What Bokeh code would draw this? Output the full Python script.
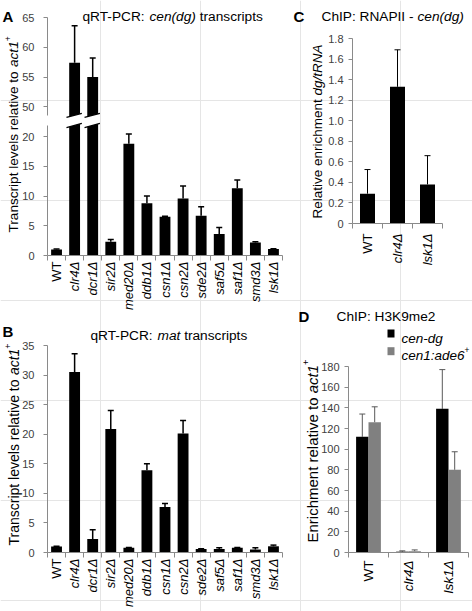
import math
from bokeh.plotting import figure
from bokeh.models import (ColumnDataSource, Range1d, FixedTicker, CustomJSTickFormatter,
                          Label, Whisker, TeeHead, LinearAxis)
from bokeh.embed import file_html
from bokeh.resources import INLINE

# ---------------- data ----------------
strains = ["WT", "clr4Δ", "dcr1Δ", "sir2Δ", "med20Δ", "ddb1Δ", "csn1Δ",
           "csn2Δ", "sde2Δ", "saf5Δ", "saf1Δ", "smd3Δ", "lsk1Δ"]
cen_dg_levels = [1.0, 57.4, 55.0, 2.3, 18.8, 8.8, 6.5, 9.6, 6.7, 3.6, 11.3, 2.2, 1.1]
cen_dg_sd = [0.1, 6.2, 3.2, 0.4, 1.6, 1.2, 0.1, 2.1, 1.5, 1.1, 1.4, 0.1, 0.05]
mat_levels = [1.0, 30.5, 2.3, 20.9, 0.8, 13.9, 7.7, 20.1, 0.6, 0.6, 0.8, 0.5, 1.05]
mat_sd = [0.05, 3.1, 1.55, 3.1, 0.05, 1.1, 0.6, 2.2, 0.05, 0.2, 0.05, 0.3, 0.2]

chip_strains = ["WT", "clr4Δ", "lsk1Δ"]
rnapii_enrich = [0.29, 1.33, 0.38]
rnapii_sd = [0.235, 0.36, 0.28]

h3k9_series = ["cen-dg", "cen1:ade6"]
h3k9_cen_dg = [112, 0.8, 139]
h3k9_cen_dg_sd = [22, 0.8, 38]
h3k9_ade6 = [126, 1.2, 80]
h3k9_ade6_sd = [15, 1.3, 17.5]

a_ticks_low = [0, 5, 10, 15, 20]
a_ticks_high = [50, 55, 60, 65]
b_ticks = [0, 5, 10, 15, 20, 25, 30, 35]
c_ticks = [0, 0.2, 0.4, 0.6, 0.8, 1.0, 1.2, 1.4, 1.6, 1.8]
d_ticks = [0, 20, 40, 60, 80, 100, 120, 140, 160, 180]

# broken axis of panel A: values above the break are drawn shifted down
A_SHIFT = 25
A_LOW_TOP = 21.85
A_HIGH_BOTTOM = 48.5

# ---------------- style ----------------
W, H = 472, 611
FONT = "Liberation Sans"
TICK_FONT = "Liberation Sans"
AXIS_GRAY = "#8a8a8a"
TICK_TXT = "#404040"
BLACK = "#000000"
GRAY_BAR = "#808080"
ERR_D = "#595959"

ARIAL_W = {' ': 278, '(': 333, ')': 333, '+': 584, '-': 333, '.': 278, '/': 278, ':': 278,
           'A': 667, 'B': 667, 'C': 722, 'D': 722, 'E': 667, 'F': 611, 'G': 778, 'H': 722,
           'I': 278, 'J': 500, 'K': 667, 'L': 556, 'M': 833, 'N': 722, 'O': 778, 'P': 667,
           'Q': 778, 'R': 722, 'S': 667, 'T': 611, 'U': 722, 'V': 667, 'W': 944, 'X': 667,
           'Y': 667, 'Z': 611, 'a': 556, 'b': 556, 'c': 500, 'd': 556, 'e': 556, 'f': 278,
           'g': 556, 'h': 556, 'i': 222, 'j': 222, 'k': 500, 'l': 222, 'm': 833, 'n': 556,
           'o': 556, 'p': 556, 'q': 556, 'r': 333, 's': 500, 't': 278, 'u': 556, 'v': 500,
           'w': 722, 'x': 500, 'y': 500, 'z': 500}


def text_width(s, size):
    return sum(ARIAL_W.get(ch, 556) for ch in s) * size / 1000.0


def panel_ranges(box, xdata, ydata):
    """ranges for a panel whose data extents sit at pixel box (left, right, top, bottom)
    of a frame that covers the whole canvas"""
    dl, dr, dt, db = box
    sx = (xdata[1] - xdata[0]) / (dr - dl)
    sy = (ydata[1] - ydata[0]) / (db - dt)
    return (Range1d(xdata[0] - dl * sx, xdata[1] + (W - dr) * sx),
            Range1d(ydata[0] - (H - db) * sy, ydata[1] + dt * sy))


# one canvas; the default ranges are page pixels (y downward) for the texts
p = figure(width=W, height=H, x_range=Range1d(0, W), y_range=Range1d(H, 0),
           x_axis_location=None, y_axis_location=None, title=None,
           toolbar_location=None, output_backend="svg", min_border=0)
p.outline_line_color = None
p.background_fill_color = "white"
p.border_fill_color = "white"

n = len(strains)
idx = list(range(n))
nc = len(chip_strains)
idc = list(range(nc))

boxes = {"A": (47, 282, 17, 255), "C": (352, 442, 38, 223),
         "B": (47, 282, 345, 552), "D": (348, 468, 366, 552)}
extents = {"A": ((-0.5, n - 0.5), (0, a_ticks_high[-1] - A_SHIFT)),
           "C": ((-0.5, nc - 0.5), (0, c_ticks[-1])),
           "B": ((-0.5, n - 0.5), (0, b_ticks[-1])),
           "D": ((-0.5, nc - 0.5), (0, d_ticks[-1]))}
for key, box in boxes.items():
    xr, yr = panel_ranges(box, *extents[key])
    p.extra_x_ranges[key] = xr
    p.extra_y_ranges[key] = yr


def style_axis(ax):
    ax.axis_line_color = AXIS_GRAY
    ax.major_tick_line_color = AXIS_GRAY
    ax.minor_tick_line_color = None
    ax.major_tick_in = 0
    ax.major_label_text_font = TICK_FONT
    ax.major_label_text_color = TICK_TXT
    ax.major_label_text_font_size = "11px"
    return ax


def x_axis(key, ncat):
    ax = style_axis(LinearAxis(x_range_name=key, y_range_name=key, fixed_location=0,
                               bounds=(-0.5, ncat - 0.5),
                               ticker=FixedTicker(ticks=[i - 0.5 for i in range(ncat + 1)]),
                               formatter=CustomJSTickFormatter(code="return '';")))
    ax.major_tick_out = 5
    p.add_layout(ax, "below")


def y_axis(key, ticks, bounds, formatter, standoff):
    ax = style_axis(LinearAxis(x_range_name=key, y_range_name=key, fixed_location=-0.5,
                               bounds=bounds, ticker=FixedTicker(ticks=ticks),
                               formatter=formatter))
    ax.major_tick_out = 4
    ax.major_label_standoff = standoff
    p.add_layout(ax, "left")


def bars(key, xs, tops, errs, width, color, err_color, err_w):
    src = ColumnDataSource(dict(x=xs, top=tops, up=errs))
    p.vbar(x="x", top="top", bottom=0, width=width, source=src, fill_color=color,
           line_color=None, x_range_name=key, y_range_name=key)
    p.add_layout(Whisker(source=src, base="x", lower="top", upper="up", dimension="height",
                         lower_head=None, line_color=err_color, line_width=err_w,
                         x_range_name=key, y_range_name=key,
                         upper_head=TeeHead(size=6, line_color=err_color, line_width=err_w)))


def runs_at(x, y, runs, size, angle=0.0):
    """runs of (text, style, superscript) from page point (x, y) on the baseline"""
    pos = 0.0
    for text, style, sup in runs:
        fs = size * (0.62 if sup else 1.0)
        rise = size * 0.42 if sup else 0.0
        body = text.strip(" ")
        lead = text_width(text[:len(text) - len(text.lstrip(" "))], fs)
        if angle == 0:
            xx, yy = x + pos + lead, y - rise
        else:
            xx, yy = x - rise, y - pos - lead
        p.add_layout(Label(x=xx, y=yy, text=body, angle=angle, text_font=FONT,
                           text_font_size=f"{fs:.2f}px", text_font_style=style,
                           text_color=BLACK, text_align="left", text_baseline="alphabetic"))
        pos += text_width(text, fs)


def letter(x, y, t):
    p.add_layout(Label(x=x, y=y, text=t, text_font=FONT, text_font_size="15px",
                       text_font_style="bold", text_color=BLACK, text_align="left",
                       text_baseline="alphabetic"))


def cat_labels(key, cats, top_y, size):
    for i, c in enumerate(cats):
        p.add_layout(Label(x=i, y=top_y, x_range_name=key, text=c, angle=math.pi / 2,
                           text_align="right", text_baseline="middle", text_font=FONT,
                           text_font_size=size, text_color=BLACK,
                           text_font_style="normal" if c == "WT" else "italic"))


def map_a(v):
    return v if v <= A_LOW_TOP else v - A_SHIFT


int_fmt = CustomJSTickFormatter(code="return tick.toFixed(0);")

# ---------------- panel A ----------------
bars("A", idx, [map_a(v) for v in cen_dg_levels],
     [map_a(v + e) for v, e in zip(cen_dg_levels, cen_dg_sd)], 0.6, BLACK, BLACK, 1.5)
broken = [i for i, v in zip(idx, cen_dg_levels) if v > A_LOW_TOP]
lo_l, lo_r = A_LOW_TOP - 0.35, A_LOW_TOP + 0.35
hi_l, hi_r = (A_HIGH_BOTTOM - A_SHIFT) - 0.3, (A_HIGH_BOTTOM - A_SHIFT) + 0.4
p.patches(xs=[[i - 0.45, i + 0.4, i + 0.4, i - 0.45] for i in broken],
          ys=[[lo_l, lo_r, hi_r, hi_l] for _ in broken],
          fill_color="white", line_color=None, x_range_name="A", y_range_name="A")
p.segment(x0=[i - 0.45 for i in broken] * 2, x1=[i + 0.4 for i in broken] * 2,
          y0=[lo_l] * len(broken) + [hi_l] * len(broken),
          y1=[lo_r] * len(broken) + [hi_r] * len(broken),
          line_color=BLACK, line_width=1.3, x_range_name="A", y_range_name="A")
x_axis("A", n)
y_axis("A", a_ticks_low, (0, A_LOW_TOP), int_fmt, 9)
y_axis("A", [t - A_SHIFT for t in a_ticks_high],
       (A_HIGH_BOTTOM - A_SHIFT, a_ticks_high[-1] - A_SHIFT),
       CustomJSTickFormatter(args=dict(shift=A_SHIFT), code="return (tick + shift).toFixed(0);"),
       9)
letter(2, 15.5, "A")
runs_at(82, 15.5, [("qRT-PCR: ", "normal", False), ("cen(dg)", "italic", False),
                   (" transcripts", "normal", False)], 13.7)
runs_at(13, 232, [("Transcript levels relative to ", "normal", False),
                  ("act1", "italic", False), ("+", "normal", True)], 13.6, angle=math.pi / 2)
cat_labels("A", strains, 261, "13px")

# ---------------- panel C ----------------
bars("C", idc, rnapii_enrich, [v + e for v, e in zip(rnapii_enrich, rnapii_sd)],
     0.5, BLACK, BLACK, 1)
x_axis("C", nc)
y_axis("C", c_ticks, (0, c_ticks[-1]),
       CustomJSTickFormatter(code="return Math.abs(tick) < 1e-9 ? '0' : tick.toFixed(1);"), 5)
letter(293, 15.5, "C")
runs_at(321, 15.5, [("ChIP: RNAPII - ", "normal", False), ("cen(dg)", "italic", False)], 13.7)
runs_at(317, 218, [("Relative enrichment ", "normal", False), ("dg/tRNA", "italic", False)],
        13.5, angle=math.pi / 2)
cat_labels("C", chip_strains, 233, "13px")

# ---------------- panel B ----------------
bars("B", idx, mat_levels, [v + e for v, e in zip(mat_levels, mat_sd)], 0.6, BLACK, BLACK, 1.5)
x_axis("B", n)
y_axis("B", b_ticks, (0, b_ticks[-1]), int_fmt, 9)
letter(2, 331, "B")
runs_at(90, 335, [("qRT-PCR: ", "normal", False), ("mat", "italic", False),
                  (" transcripts", "normal", False)], 13.7)
runs_at(13, 545, [("Transcript levels relative to ", "normal", False),
                  ("act1", "italic", False), ("+", "normal", True)], 14, angle=math.pi / 2)
cat_labels("B", strains, 558, "13px")

# ---------------- panel D ----------------
BAR_D = 0.31
bars("D", [i - BAR_D / 2 for i in idc], h3k9_cen_dg,
     [v + e for v, e in zip(h3k9_cen_dg, h3k9_cen_dg_sd)], BAR_D, BLACK, ERR_D, 1)
bars("D", [i + BAR_D / 2 for i in idc], h3k9_ade6,
     [v + e for v, e in zip(h3k9_ade6, h3k9_ade6_sd)], BAR_D, GRAY_BAR, ERR_D, 1)
x_axis("D", nc)
y_axis("D", d_ticks, (0, d_ticks[-1]), int_fmt, 5)
letter(298, 315.5, "D")
runs_at(336, 315.5, [("ChIP: H3K9me2", "normal", False)], 13.7)
for k, (name, col) in enumerate(zip(h3k9_series, [BLACK, GRAY_BAR])):
    cy = 333 + 17.7 * k
    p.quad(left=[387], right=[394], top=[cy - 4], bottom=[cy + 4], fill_color=col,
           line_color=None)
    rr = [(name, "italic", False)] + ([("+", "normal", True)] if k == 1 else [])
    runs_at(401, cy + 4.5, rr, 13.5)
runs_at(312, 542, [("Enrichment relative to ", "normal", False), ("act1", "italic", False),
                   ("+", "normal", True)], 15, angle=math.pi / 2)
cat_labels("D", chip_strains, 560, "13.5px")

open("out.html", "w").write(file_html(p, INLINE))
